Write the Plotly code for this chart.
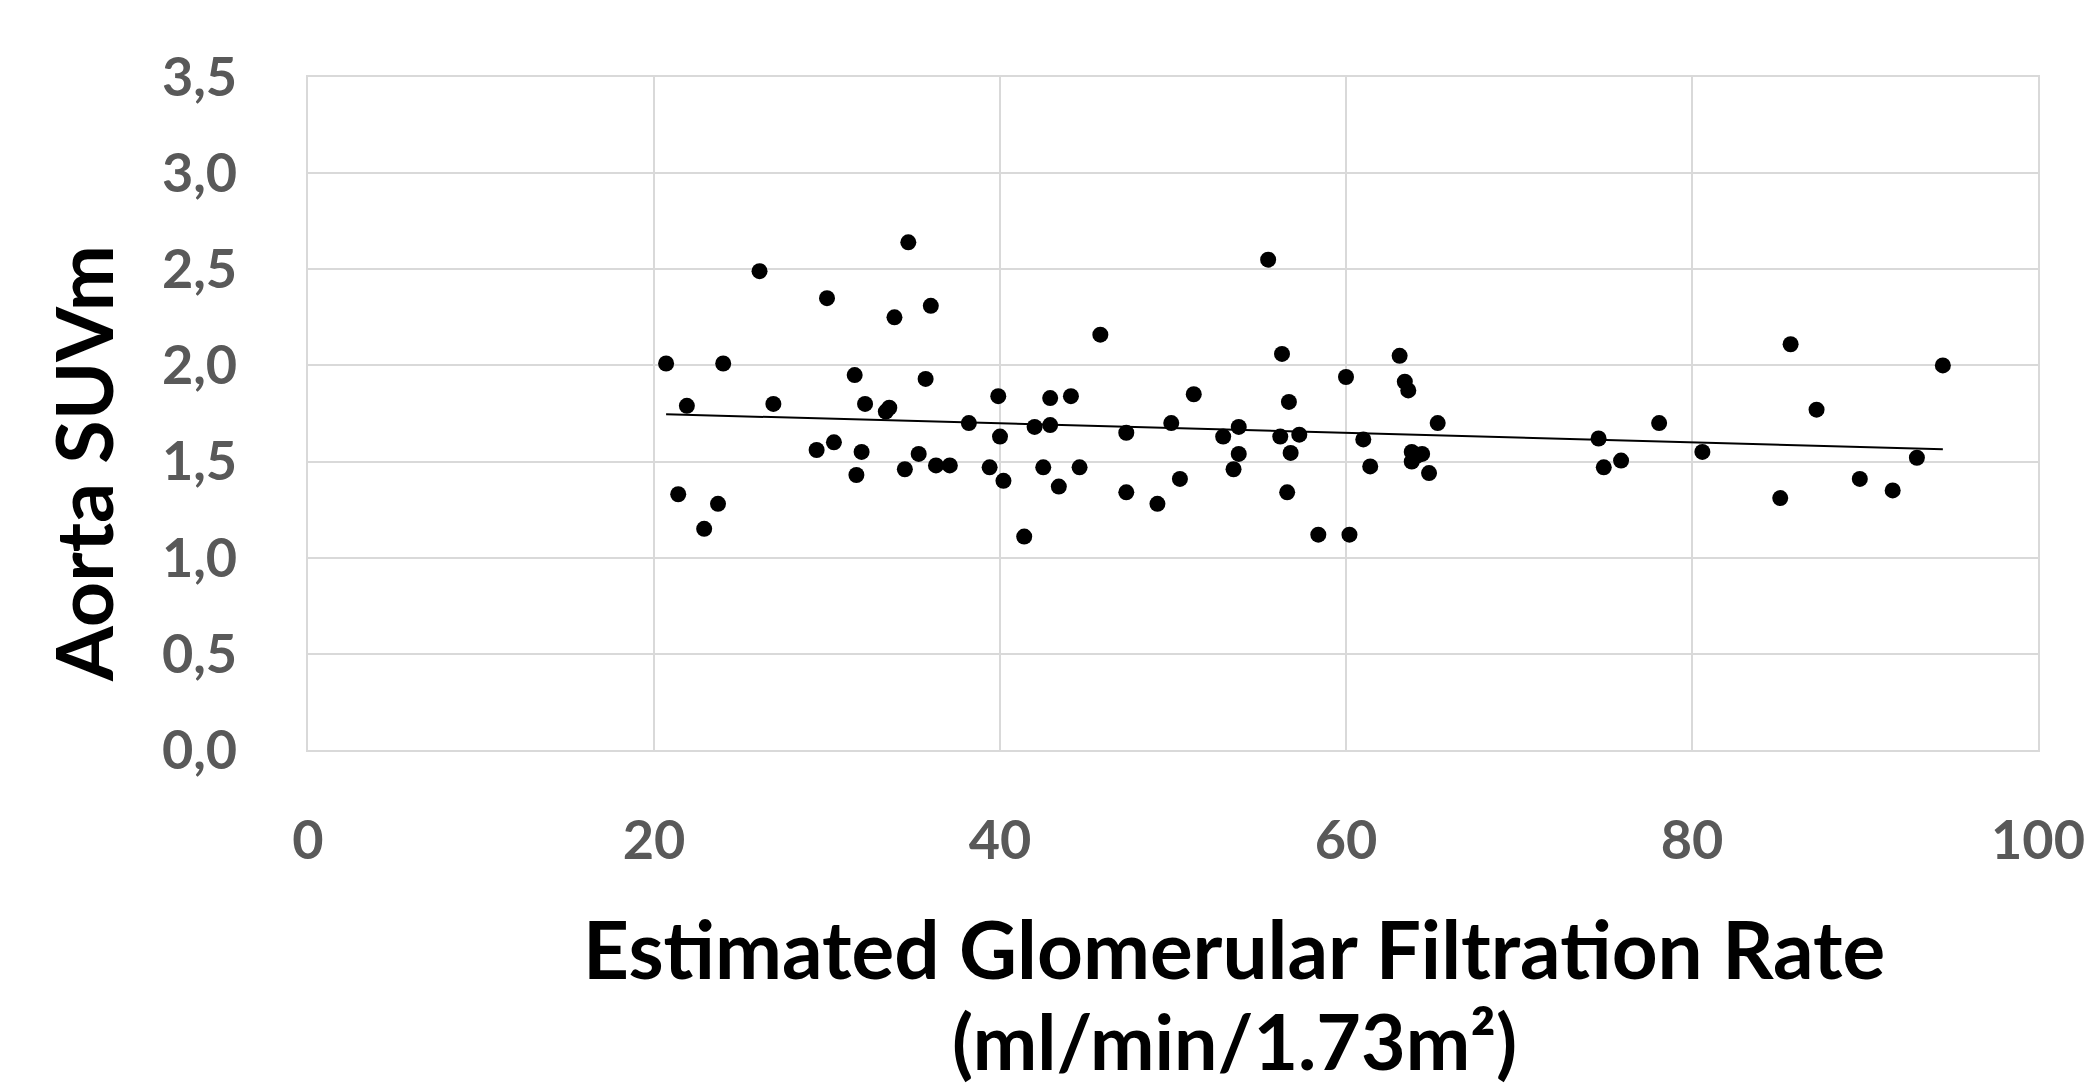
import numpy as np
import plotly.graph_objects as go

# Estimated GFR (ml/min/1.73m2)
egfr = [20.7, 21.4, 21.9, 22.9, 23.7, 24.0, 26.1, 26.9, 29.4, 30.0,
        30.4, 31.6, 31.7, 32.0, 32.2, 33.4, 33.6, 33.9, 34.5, 34.7,
        35.3, 35.7, 36.0, 36.3, 37.1, 38.2, 39.4, 39.9, 40.0, 40.2,
        41.4, 42.0, 42.5, 42.9, 42.9, 43.4, 44.1, 44.6, 45.8, 47.3,
        47.3, 49.1, 49.9, 50.4, 51.2, 52.9, 53.5, 53.8, 53.8, 55.5,
        56.3, 56.2, 56.6, 56.7, 56.8, 57.3, 58.4, 60.0, 60.2, 61.0,
        61.4, 63.1, 63.4, 63.6, 63.8, 63.8, 64.1, 64.4, 64.8, 65.3,
        74.6, 74.9, 75.9, 78.1, 80.6, 85.1, 85.7, 87.2, 89.7, 91.6,
        93.0, 94.5]
# Aorta SUVm
suvm = [2.01, 1.33, 1.79, 1.15, 1.28, 2.01, 2.49, 1.80, 1.56, 2.35,
        1.60, 1.95, 1.43, 1.55, 1.80, 1.76, 1.78, 2.25, 1.46, 2.64,
        1.54, 1.93, 2.31, 1.48, 1.48, 1.70, 1.47, 1.84, 1.63, 1.40,
        1.11, 1.68, 1.47, 1.69, 1.83, 1.37, 1.84, 1.47, 2.16, 1.65,
        1.34, 1.28, 1.70, 1.41, 1.85, 1.63, 1.46, 1.68, 1.54, 2.55,
        2.06, 1.63, 1.34, 1.81, 1.545, 1.64, 1.12, 1.94, 1.12, 1.615,
        1.475, 2.05, 1.915, 1.87, 1.55, 1.50, 1.53, 1.54, 1.44, 1.70,
        1.62, 1.47, 1.505, 1.70, 1.55, 1.31, 2.11, 1.77, 1.41, 1.35,
        1.52, 2.00]

x_ticks = [0, 20, 40, 60, 80, 100]
y_ticks = [0.0, 0.5, 1.0, 1.5, 2.0, 2.5, 3.0, 3.5]

x_title_1 = "Estimated Glomerular Filtration Rate"
x_title_2 = "(ml/min/1.73m²)"
y_title = "Aorta SUVm"

# linear trend line
slope, intercept = np.polyfit(egfr, suvm, 1)
tx = np.array([min(egfr), max(egfr)])
ty = slope * tx + intercept

FONT = "Lato"
GRID = "#d9d9d9"
TICKC = "#595959"

W, H = 2085, 1091
L, R, T, B = 308, 47, 77, 341
PW, PH = W - L - R, H - T - B


def px_to_paper(px, py):
    return (px - L) / PW, (H - B - py) / PH


fig = go.Figure()
fig.add_trace(go.Scatter(x=tx, y=ty, mode="lines",
                         line=dict(color="black", width=2),
                         hoverinfo="skip", showlegend=False))
fig.add_trace(go.Scatter(x=egfr, y=suvm, mode="markers",
                         marker=dict(color="black", size=16, line=dict(width=0)),
                         showlegend=False))

fig.update_layout(
    width=W, height=H,
    margin=dict(l=L, r=R, t=T, b=B, autoexpand=False),
    paper_bgcolor="white", plot_bgcolor="white",
    separators=", ",
    font=dict(family=FONT, color=TICKC),
    showlegend=False,
)
fig.update_xaxes(
    range=[0, 100], tickvals=x_ticks, ticks="",
    showgrid=True, gridcolor=GRID, gridwidth=2,
    showline=True, linecolor=GRID, linewidth=2, mirror=True,
    zeroline=False, automargin=False,
    tickfont=dict(family=FONT, size=54, color=TICKC, weight="bold"),
    ticklabelstandoff=42,
)
fig.update_yaxes(
    range=[0, 3.5], tickvals=y_ticks, tickformat=".1f", ticks="",
    showgrid=True, gridcolor=GRID, gridwidth=2,
    showline=True, linecolor=GRID, linewidth=2, mirror=True,
    zeroline=False, automargin=False,
    tickfont=dict(family=FONT, size=54, color=TICKC, weight="bold"),
    ticklabelstandoff=58,
)

ax1, ay1 = px_to_paper(1234, 948)
ax2, ay2 = px_to_paper(1234, 1040)
yx, yy = px_to_paper(83, 464)
fig.add_annotation(x=ax1, y=ay1, xref="paper", yref="paper",
                   text=x_title_1, showarrow=False, xanchor="center", yanchor="middle",
                   font=dict(family=FONT, size=80, color="black", weight="bold"))
fig.add_annotation(x=ax2, y=ay2, xref="paper", yref="paper",
                   text=x_title_2, showarrow=False, xanchor="center", yanchor="middle",
                   font=dict(family=FONT, size=77, color="black", weight="bold"))
fig.add_annotation(x=yx, y=yy, xref="paper", yref="paper",
                   text=y_title, showarrow=False, textangle=-90,
                   xanchor="center", yanchor="middle",
                   font=dict(family=FONT, size=79, color="black", weight="bold"))

fig.write_html("out.html")
